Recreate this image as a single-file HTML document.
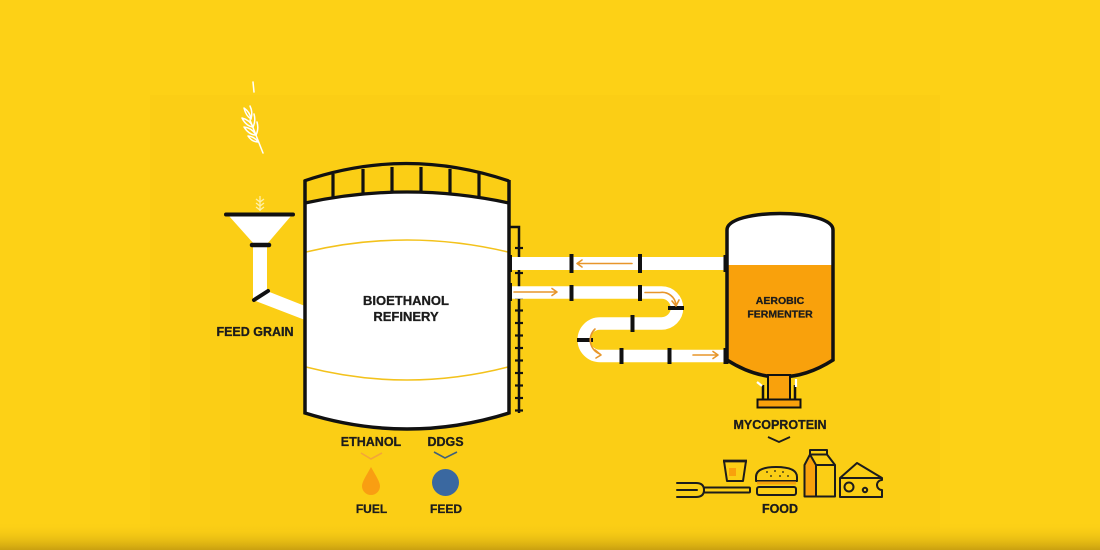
<!DOCTYPE html>
<html><head><meta charset="utf-8"><style>
html,body{margin:0;padding:0;width:1100px;height:550px;overflow:hidden;background:#FDD116}
svg{display:block}
text{font-family:"Liberation Sans",sans-serif;font-weight:700;fill:#1c1c1c;stroke:#1c1c1c;stroke-width:0.3;text-anchor:middle}
</style></head><body>
<svg width="1100" height="550" viewBox="0 0 1100 550" xmlns="http://www.w3.org/2000/svg">
<defs>
<linearGradient id="bot" x1="0" y1="0" x2="0" y2="1">
<stop offset="0" stop-color="#FDD116" stop-opacity="0"/>
<stop offset="1" stop-color="#C9A010" stop-opacity="1"/>
</linearGradient>
<clipPath id="ferm"><path d="M727,230 C727,208 833,208 833,230 L833,360 Q780,394 727,360 Z"/></clipPath>
</defs>
<rect width="1100" height="550" fill="#FDD116"/>
<rect x="150" y="95" width="790" height="435" fill="#FBCE15"/>
<rect x="0" y="522" width="1100" height="28" fill="url(#bot)"/>

<!-- wheat falling -->
<g stroke="#fff" stroke-width="1.5" fill="none" stroke-linecap="round" stroke-linejoin="round">
<line x1="253" y1="82" x2="254" y2="92"/>
<path d="M263,153 L250,120"/>
<path d="M244,108 Q246,116 251,119 Q250,112 244,108 Z"/>
<path d="M250,106 Q253,112 251,119"/>
<path d="M242,118 Q246,126 253,127 Q250,120 242,118 Z"/>
<path d="M253,127 Q256,121 254,114"/>
<path d="M244,127 Q249,135 256,135 Q252,128 244,127 Z"/>
<path d="M256,135 Q259,129 257,122"/>
<path d="M248,136 Q252,142 258,142 Q255,137 248,136 Z"/>
</g>
<!-- small wheat above funnel -->
<g stroke="#FFF1A8" stroke-width="1.3" fill="none">
<line x1="260" y1="196" x2="260" y2="211"/>
<path d="M256,199 L260,202 L264,199 M256,203 L260,206 L264,203 M256,207 L260,210 L264,207"/>
</g>

<!-- funnel -->
<polygon points="229,216 291,216 267,244 254,244" fill="#fff"/>
<line x1="226" y1="214.5" x2="293" y2="214.5" stroke="#111" stroke-width="4" stroke-linecap="round"/>
<path d="M253,245 L267,245 L267,291 L305,306 L305,320 L253,300 Z" fill="#fff"/>
<line x1="252" y1="245" x2="269" y2="245" stroke="#111" stroke-width="4.5" stroke-linecap="round"/>
<line x1="254" y1="300" x2="268" y2="291" stroke="#111" stroke-width="4" stroke-linecap="round"/>
<text x="255" y="336" font-size="12.5">FEED GRAIN</text>

<!-- refinery rail -->
<g stroke="#111" stroke-width="3.2" fill="none">
<path d="M304,181 Q406,146 509,181"/>
<line x1="333" y1="174" x2="333" y2="198"/>
<line x1="363" y1="169" x2="363" y2="194"/>
<line x1="392" y1="167" x2="392" y2="192"/>
<line x1="421" y1="167" x2="421" y2="192"/>
<line x1="450" y1="169" x2="450" y2="194"/>
<line x1="479" y1="173" x2="479" y2="197"/>
</g>
<!-- refinery tank -->
<path d="M305,203 Q407,181 509,203 L509,413 Q407,445 305,413 Z" fill="#fff"/>
<path d="M306,252 Q407,228 508,252" stroke="#F3C21C" stroke-width="1.6" fill="none"/>
<path d="M306,367 Q407,393 508,367" stroke="#F3C21C" stroke-width="1.6" fill="none"/>
<path d="M305,203 Q407,181 509,203" stroke="#111" stroke-width="3.2" fill="none"/>
<path d="M305,180 L305,413 Q407,445 509,413 L509,180" stroke="#111" stroke-width="3.5" fill="none"/>
<text x="406" y="305" font-size="13">BIOETHANOL</text>
<text x="406" y="321" font-size="13">REFINERY</text>

<!-- ladder -->
<g stroke="#111" stroke-width="2.5" fill="none">
<path d="M509,227 H519 V413"/>
</g>
<g stroke="#111" stroke-width="2.2">
<line x1="515" y1="248" x2="523" y2="248"/>
<line x1="515" y1="273" x2="523" y2="273"/>
<line x1="515" y1="298" x2="523" y2="298"/>
<line x1="515" y1="310.5" x2="523" y2="310.5"/>
<line x1="515" y1="323" x2="523" y2="323"/>
<line x1="515" y1="335.5" x2="523" y2="335.5"/>
<line x1="515" y1="348" x2="523" y2="348"/>
<line x1="515" y1="360.5" x2="523" y2="360.5"/>
<line x1="515" y1="373" x2="523" y2="373"/>
<line x1="515" y1="385.5" x2="523" y2="385.5"/>
<line x1="515" y1="398" x2="523" y2="398"/>
<line x1="515" y1="410.5" x2="523" y2="410.5"/>
</g>

<!-- pipes -->
<rect x="510" y="257" width="217" height="13" fill="#fff"/>
<path d="M510,292.5 H661.5 A15.5,15.5 0 0 1 661.5,323.5 H600 A16.25,16.25 0 0 0 600,356 H727" stroke="#fff" stroke-width="12.5" fill="none"/>
<g fill="#111">
<rect x="507.5" y="255" width="4.5" height="17"/>
<rect x="507.5" y="283" width="4.5" height="18"/>
<rect x="569.5" y="254" width="4" height="19"/>
<rect x="638" y="254" width="4" height="19"/>
<rect x="569.5" y="285" width="4" height="16"/>
<rect x="638" y="285" width="4" height="16"/>
<rect x="630.5" y="315" width="4" height="17"/>
<rect x="619.5" y="348" width="4" height="16"/>
<rect x="667.5" y="348" width="4" height="16"/>
<rect x="668" y="306" width="16" height="4"/>
<rect x="577" y="338" width="16" height="4"/>
<rect x="723.5" y="255" width="5" height="17"/>
<rect x="723.5" y="348" width="5" height="16"/>
</g>
<!-- flow arrows -->
<g stroke="#E7962B" stroke-width="1.6" fill="none" stroke-linecap="round" stroke-linejoin="round">
<path d="M632,263.5 H577 M582,260 L577,263.5 L582,267"/>
<path d="M514,292 H557 M552,288.5 L557,292 L552,295.5"/>
<path d="M645,292.5 H660 A14,14 0 0 1 676,305 M672,301 L676,306 L679,300"/>
<path d="M595,329 A15,15 0 0 0 600,354 M595,350 L601,355 L596,358"/>
<path d="M693,355 H718 M713,351.5 L718,355 L713,358.5"/>
</g>

<!-- fermenter -->
<path d="M727,230 C727,208 833,208 833,230 L833,360 Q780,394 727,360 Z" fill="#fff"/>
<rect x="720" y="265" width="120" height="140" fill="#F9A10C" clip-path="url(#ferm)"/>
<path d="M727,230 C727,208 833,208 833,230 L833,360 Q780,394 727,360 Z" fill="none" stroke="#111" stroke-width="3.5"/>
<text x="780" y="304" font-size="10.5">AEROBIC</text>
<text x="780" y="317.5" font-size="10.5">FERMENTER</text>

<!-- stand -->
<rect x="768" y="375" width="22" height="25" fill="#F9A10C" stroke="#111" stroke-width="2"/>
<line x1="763" y1="385" x2="763" y2="400" stroke="#111" stroke-width="2.5"/>
<line x1="795" y1="385" x2="795" y2="400" stroke="#111" stroke-width="2.5"/>
<rect x="757.5" y="399.5" width="43" height="8" fill="#F9A10C" stroke="#111" stroke-width="2"/>
<line x1="757" y1="382" x2="762" y2="386" stroke="#fff" stroke-width="2.2"/>
<line x1="796" y1="379" x2="796" y2="387" stroke="#fff" stroke-width="2.2"/>

<text x="780" y="429" font-size="12.5">MYCOPROTEIN</text>
<path d="M768,437 L779,442 L790,437" stroke="#1c1c1c" stroke-width="1.8" fill="none"/>

<!-- outputs under refinery -->
<text x="371" y="446" font-size="12.5">ETHANOL</text>
<text x="445.5" y="446" font-size="12.5">DDGS</text>
<path d="M361,453 L371,459 L382,453" stroke="#F3A53A" stroke-width="1.6" fill="none"/>
<path d="M434,452 L445,458 L457,452" stroke="#41607A" stroke-width="1.6" fill="none"/>
<path d="M371,467 C366,476 362,482 362,486 A9,9 0 0 0 380,486 C380,482 376,476 371,467 Z" fill="#F99E12"/>
<circle cx="445.5" cy="482.5" r="13.5" fill="#3A68A0"/>
<text x="371.5" y="513" font-size="12">FUEL</text>
<text x="446" y="513" font-size="12">FEED</text>

<!-- food icons -->
<g stroke="#1c1c1c" stroke-width="2" fill="none" stroke-linejoin="round" stroke-linecap="round">
<path d="M677,483 H696 M677,490 H697 M677,497 H696"/>
<path d="M696,483 Q704,483 704,490 Q704,497 696,497"/>
<rect x="704" y="487.5" width="46" height="5" rx="1"/>
<path d="M724,461 H746 L743,481 H727 Z"/>
</g>
<rect x="729" y="468" width="7" height="8" fill="#F9A10C"/>
<g stroke="#1c1c1c" stroke-width="2" fill="none" stroke-linejoin="round">
<line x1="723" y1="461" x2="747" y2="461" stroke-width="2.8"/>
<path d="M756,481 L756,477 Q756,467 776,467 Q797,467 797,477 L797,481 Z"/>
</g>
<rect x="757" y="481.5" width="39" height="3" fill="#F9A10C"/>
<g stroke="#1c1c1c" stroke-width="2" fill="none" stroke-linejoin="round">
<rect x="757" y="487" width="39" height="8" rx="2"/>
</g>
<g fill="#1c1c1c">
<circle cx="767" cy="472" r="0.9"/><circle cx="775" cy="471" r="0.9"/><circle cx="783" cy="472" r="0.9"/>
<circle cx="771" cy="476" r="0.9"/><circle cx="780" cy="476" r="0.9"/><circle cx="788" cy="476" r="0.9"/>
</g>
<path d="M805,466 L811,455 L816,466 Z" fill="#F9A10C"/>
<rect x="805" y="466" width="11" height="30" fill="#F9A10C"/>
<g stroke="#1c1c1c" stroke-width="2" fill="none" stroke-linejoin="round">
<rect x="810" y="450" width="17" height="4.5"/>
<path d="M810,454.5 L804.5,465 V496.5 H835 V465 L827,454.5"/>
<path d="M810,454.5 L816,465 V496.5 M816,465 H835"/>
<path d="M840,478 L857,463 L882,478 Z"/>
<path d="M840,478 V497 H882 V490 A5,5 0 0 1 882,480 V478"/>
<circle cx="849" cy="487" r="4.5"/>
<circle cx="865" cy="490" r="2.2"/>
</g>
<text x="780" y="513" font-size="12.5">FOOD</text>
</svg>
</body></html>
